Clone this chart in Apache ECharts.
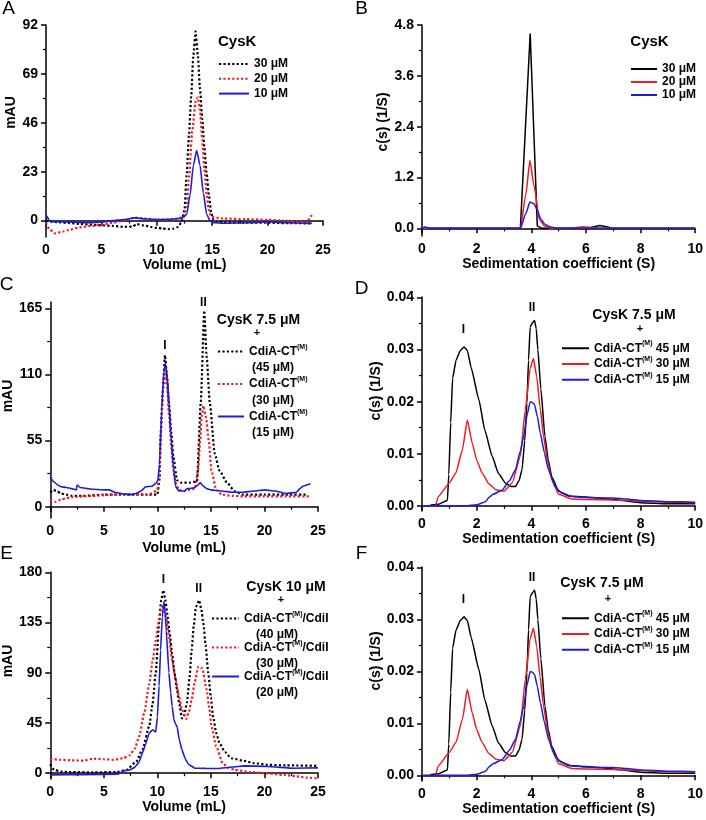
<!DOCTYPE html>
<html><head><meta charset="utf-8">
<script src="https://cdn.jsdelivr.net/npm/echarts@6/dist/echarts.min.js"></script>
<style>html,body{margin:0;padding:0;background:#fff}#c{width:706px;height:820px}</style>
</head><body><div id="c"></div><script>
// ---------------- DATA ----------------
// Panel A (SEC, CysK alone): [volume mL, mAU]
const A_30uM = [[0,0],[0.5,-0.5],[1,-0.7],[2,-1.1],[3,-1.5],[4,-1.9],[5,-2.2],[6,-2.5],[7,-2.9],[7.8,-2.8],[8.2,-1.6],[8.8,-2.2],[9.5,-3],[10,-3.4],[10.5,-3.7],[11,-4],[11.5,-3.8],[11.9,-3],[12.2,-1],[12.5,5],[12.7,22],[12.9,40],[13.1,58],[13.3,78],[13.5,89],[13.7,78],[13.9,62],[14.1,48],[14.3,34],[14.5,22],[14.7,12],[14.9,4],[15.1,0.5],[15.4,-0.6],[16,-0.9],[18,-1],[20,-1],[22,-1.2],[24,-1.3]];
const A_20uM = [[0,-1],[0.3,-4],[0.8,-6],[1.5,-5.2],[2,-4.5],[3,-3.2],[4,-2.5],[5,-2],[6,-1],[7,0],[8,1.4],[9,1],[10,0.5],[11,0.5],[12,1],[12.4,2],[12.7,6],[12.9,20],[13.2,42],[13.5,56],[13.7,58],[13.9,52],[14.1,38],[14.3,24],[14.5,12],[14.7,5],[14.9,2],[15.2,1.5],[16,1],[18,0.7],[20,0.4],[22,-0.2],[23.5,-0.6],[24,2.6]];
const A_10uM = [[0,0.3],[0.1,2],[0.3,0],[0.6,-0.5],[2,-0.6],[4,-1],[5,-0.7],[6,0],[7,0.5],[8,1.3],[9,0.8],[10,0.5],[11,0.6],[12,1],[12.4,1.5],[12.7,3],[13,12],[13.3,26],[13.6,33],[13.9,26],[14.2,13],[14.5,3],[14.8,0],[15.2,-1],[16,-1.2],[18,-1],[20,-0.6],[22,-1],[24,-1.3]];
// Panel B (AUC, CysK alone): [S, c(s)]
const B_30uM = [[0,0],[3.6,0],[3.96,4.6],[4.22,0.06],[4.4,0],[6.0,0],[6.3,0.04],[6.5,0.07],[6.75,0.04],[7.0,0],[10,0]];
const B_20uM = [[0,0],[3.6,0],[3.8,0.8],[3.95,1.6],[4.1,1.0],[4.3,0.2],[4.5,0.05],[4.7,0],[5.4,0],[5.9,0.04],[6.3,0.01],[6.6,0],[10,0]];
const B_10uM = [[0,0],[0.1,0.03],[0.2,0.02],[0.3,0],[3.6,0],[3.8,0.35],[3.95,0.62],[4.1,0.58],[4.2,0.45],[4.35,0.22],[4.5,0.1],[4.7,0.03],[5.0,0],[10,0]];
// Panel C (SEC, CysK 7.5 uM + CdiA-CT)
const C_45uM = [[0,12],[0.3,14],[0.6,13],[1,11],[1.5,10],[2,9],[3,9],[5,10],[7,10],[9,10],[10,10],[10.2,22],[10.3,58],[10.5,95],[10.71,126],[10.9,108],[11.08,86],[11.3,62],[11.5,41],[11.84,22],[12.2,20],[13,20],[13.7,21],[14.05,86],[14.38,163],[14.6,125],[14.9,86],[15.36,44],[15.8,30],[16.5,20],[17.2,13],[18,10],[20,10],[22,10],[24,10]];
const C_30uM = [[0,5.5],[0.5,4],[1,6],[1.5,7],[2,8],[3,8.5],[4,9],[5,9.5],[6,10],[7,10.5],[8,10.5],[9,10],[9.5,11],[10,14],[10.2,30],[10.4,75],[10.55,100],[10.7,112],[10.9,100],[11.1,75],[11.3,50],[11.5,30],[11.7,20],[12,14],[12.5,13],[13,14],[13.5,15],[13.8,30],[14.0,55],[14.15,76],[14.3,84],[14.55,74],[14.8,55],[15.05,30],[15.5,14],[16,10],[17,9],[18,8.5],[20,8.5],[22,8.5],[24.2,8.5]];
const C_15uM = [[0,24.4],[0.3,21],[0.7,18],[1,16.6],[1.5,16],[2,15],[2.45,14],[2.5,18],[2.8,16],[3.5,15],[4,14.5],[5,14],[5.5,14],[6,12],[7,10.5],[7.5,10],[8,11],[8.5,13],[8.9,16.6],[9.5,17],[9.85,19.4],[10.05,22],[10.2,35],[10.4,80],[10.6,112],[10.77,119],[10.95,106],[11.1,85],[11.3,55],[11.5,32],[11.7,17],[12,13],[12.5,13],[12.8,15],[13,15],[13.5,16],[13.8,18],[14,20],[14.3,17],[14.6,15],[15,14],[16,13],[17,12],[18,12],[19,13],[20,14],[21,13],[22,11],[23,12],[23.3,15],[23.6,17],[24.3,19]];
// Panel D (AUC, CysK 7.5 uM + CdiA-CT)
const D_45uM = [[0.3,0.0001],[0.6,0.0003],[0.93,0.001],[0.98,0.006],[1.05,0.016],[1.12,0.0245],[1.25,0.028],[1.4,0.0298],[1.54,0.0305],[1.66,0.0298],[1.8,0.0265],[2.08,0.0204],[2.3,0.0145],[2.57,0.0095],[2.8,0.0062],[3.05,0.0044],[3.25,0.0037],[3.42,0.0037],[3.55,0.0048],[3.66,0.0069],[3.76,0.0125],[3.84,0.0197],[3.9,0.028],[3.96,0.0344],[4.05,0.0352],[4.12,0.0356],[4.18,0.034],[4.24,0.03],[4.35,0.0225],[4.5,0.0133],[4.62,0.0088],[4.75,0.0056],[5.0,0.0028],[5.36,0.0019],[6,0.0017],[6.5,0.0015],[7,0.0012],[8,0.0006],[9,0.0004],[10,0.0004]];
const D_30uM = [[0.5,0],[0.6,0.0018],[1.0,0.0044],[1.24,0.0063],[1.48,0.0108],[1.66,0.0165],[1.84,0.012],[2.0,0.0088],[2.2,0.0063],[2.45,0.0042],[2.7,0.0031],[3.0,0.0028],[3.3,0.0044],[3.6,0.0095],[3.78,0.0184],[3.96,0.0264],[4.08,0.0283],[4.2,0.0248],[4.32,0.019],[4.45,0.0133],[4.6,0.0085],[4.75,0.005],[5.0,0.0022],[5.5,0.0013],[6,0.0012],[7,0.0011],[8,0.0009],[9,0.0007],[10,0.0006]];
const D_15uM = [[0,0],[1.6,0],[2.0,0.0002],[2.33,0.0008],[2.45,0.0016],[2.6,0.0022],[2.93,0.003],[3.2,0.0048],[3.42,0.0069],[3.6,0.0105],[3.72,0.0133],[3.85,0.0175],[3.96,0.02],[4.05,0.0198],[4.12,0.0194],[4.22,0.0172],[4.33,0.014],[4.48,0.0102],[4.63,0.0069],[4.87,0.0037],[5.1,0.0025],[5.5,0.0018],[6,0.0016],[6.5,0.0015],[7,0.0015],[7.5,0.0013],[8,0.001],[9,0.0008],[10,0.0007]];
// Panel E (SEC, CysK 10 uM + CdiA-CT/CdiI)
const E_40uM = [[0,8],[0.37,3],[1,1.5],[1.9,1],[4,0.8],[6.2,1],[7.1,3],[8.0,10],[8.6,21],[9.24,42],[9.55,62],[9.85,90],[10.16,134],[10.35,155],[10.56,164],[10.75,155],[10.92,143],[11.15,125],[11.38,107],[11.6,90],[11.84,75],[12.05,62],[12.3,49],[12.5,52],[12.76,63],[13.0,85],[13.2,110],[13.4,132],[13.6,149],[13.9,155],[14.1,147],[14.3,134],[14.5,115],[14.75,90],[15.0,68],[15.2,51],[15.5,36],[15.8,27],[16.3,19],[16.9,13.4],[18.1,11],[19,9],[20.3,7.5],[22,7],[25,6.6]];
const E_30uM = [[0,12.8],[1,12],[2,11.5],[3.1,11.3],[4.0,13],[5,12.5],[5.9,12],[6.8,13.4],[7.4,16],[7.9,22],[8.3,33],[8.8,55],[9.24,80],[9.55,100],[9.85,119],[10.1,135],[10.3,146],[10.56,150.7],[10.8,140],[11.08,122],[11.4,100],[11.7,84],[12.0,70],[12.3,57],[12.7,48.7],[12.95,55],[13.2,66],[13.5,82],[13.83,95.5],[14.2,94],[14.6,75],[14.85,58],[15.05,42],[15.5,24],[16.1,9],[16.6,5],[17.2,3],[18.7,1],[20,0],[21.8,-1.5],[23,-2.8],[24,-4],[25,-4.8]];
const E_20uM = [[0,-1.5],[3,-1.3],[6.33,-1],[6.8,2],[7.4,3],[7.86,5],[8.3,10],[8.6,18],[8.9,26],[9.24,36],[9.55,39],[9.85,37],[10.0,50],[10.16,78],[10.3,110],[10.46,140],[10.62,154],[10.72,145],[10.83,128],[11.08,90],[11.25,72],[11.38,60],[11.55,48],[11.7,44],[11.84,42],[12.05,30],[12.3,21],[12.6,13],[12.9,8],[13.5,4.5],[14.5,4.3],[15.7,4.2],[17,5.5],[18.1,6.6],[20.3,6],[22.7,4.5],[25,4.8]];
// Panel F (AUC, same as D)
const F_45uM = D_45uM.slice();
const F_30uM = D_30uM.slice();
const F_15uM = D_15uM.slice();

// Tick values
const volTicks = [0,5,10,15,20,25];
const volMinor = [2.5,7.5,12.5,17.5,22.5];
const sedTicks = [0,2,4,6,8,10];
const sedMinor = [1,3,5,7,9];
const A_yTicks = [0,23,46,69,92];
const A_yMinor = [11.5,34.5,57.5,80.5];
const B_yTicks = [0,1.2,2.4,3.6,4.8];
const B_yMinor = [0.6,1.8,3.0,4.2];
const C_yTicks = [0,55,110,165];
const C_yMinor = [27.5,82.5,137.5];
const D_yTicks = [0,0.01,0.02,0.03,0.04];
const D_yMinor = [0.005,0.015,0.025,0.035];
const E_yTicks = [0,45,90,135,180];
const E_yMinor = [22.5,67.5,112.5,157.5];

// Peak annotations [x, y, text]
const C_peaks = [[10.71,133.7,'I'],[14.3,169.4,'II']];
const D_peaks = [[1.52,0.0338,'I'],[4.03,0.038,'II']];
const E_peaks = [[10.56,173,'I'],[13.86,165,'II']];
const F_peaks = [[1.52,0.0338,'I'],[4.03,0.038,'II']];

// ---------------- CHART ----------------
const FONT = 'Liberation Sans, Arial, Helvetica, sans-serif';
const BLACK = '#000000', RED = '#ec1c24', BLUE = '#1c1cdc';
const DOT = [2.2, 2.2];

const grids = [
  {left:46,  top:25,  width:277, height:212},
  {left:422, top:25,  width:275, height:211},
  {left:46,  top:302, width:272, height:216},
  {left:422, top:297, width:275, height:214},
  {left:46,  top:572, width:272, height:207},
  {left:422, top:567, width:275, height:214}
];

const panels = [
  {x:[0,25], xt:volTicks, xm:volMinor, y:[-7.7,92], yt:A_yTicks, ym:A_yMinor, xn:'Volume (mL)', yn:'mAU', xgap:20, ygap:22, ypad:37, dec:0},
  {x:[0,10], xt:sedTicks, xm:sedMinor, y:[-0.18,4.8], yt:B_yTicks, ym:B_yMinor, xn:'Sedimentation coefficient (S)', yn:'c(s) (1/S)', xgap:21, ygap:27, ypad:17, dec:1},
  {x:[0,25], xt:volTicks, xm:volMinor, y:[-9.4,170.2], yt:C_yTicks, ym:C_yMinor, xn:'Volume (mL)', yn:'mAU', xgap:23, ygap:22, ypad:28, dec:0},
  {x:[0,10], xt:sedTicks, xm:sedMinor, y:[-0.001,0.0401], yt:D_yTicks, ym:D_yMinor, xn:'Sedimentation coefficient (S)', yn:'c(s) (1/S)', xgap:20, ygap:27, ypad:26, dec:2},
  {x:[0,25], xt:volTicks, xm:volMinor, y:[-5.2,180.3], yt:E_yTicks, ym:E_yMinor, xn:'Volume (mL)', yn:'mAU', xgap:19, ygap:25, ypad:29, dec:0},
  {x:[0,10], xt:sedTicks, xm:sedMinor, y:[-0.0011,0.0401], yt:D_yTicks, ym:D_yMinor, xn:'Sedimentation coefficient (S)', yn:'c(s) (1/S)', xgap:16, ygap:27, ypad:26, dec:2}
];

const axLine = {lineStyle:{color:'#000', width:1.5}};
const xAxes = [], yAxes = [];
panels.forEach((p, g) => {
  xAxes.push({type:'value', gridIndex:g, position:'bottom', min:p.x[0], max:p.x[1],
    axisLine:axLine, splitLine:{show:false},
    axisTick:{show:true, customValues:p.xt, length:5, lineStyle:{color:'#000', width:1.5}},
    axisLabel:{customValues:p.xt, color:'#000', fontFamily:FONT, fontWeight:'bold', fontSize:14, margin:6},
    name:p.xn, nameLocation:'middle', nameGap:p.xgap,
    nameTextStyle:{color:'#000', fontFamily:FONT, fontWeight:'bold', fontSize:14}});
  xAxes.push({type:'value', gridIndex:g, position:'bottom', min:p.x[0], max:p.x[1],
    axisLine:{show:false}, splitLine:{show:false}, axisLabel:{show:false},
    axisTick:{show:true, customValues:p.xm, length:3, lineStyle:{color:'#000', width:1.2}}});
  yAxes.push({type:'value', gridIndex:g, position:'left', min:p.y[0], max:p.y[1],
    axisLine:axLine, splitLine:{show:false},
    axisTick:{show:true, customValues:p.yt, length:5, lineStyle:{color:'#000', width:1.5}},
    axisLabel:{customValues:p.yt, color:'#000', fontFamily:FONT, fontWeight:'bold', fontSize:14, margin:8,
      formatter: v => Number(v).toFixed(p.dec)},
    name:p.yn, nameLocation:'middle', nameGap:p.ygap,
    nameTextStyle:{color:'#000', fontFamily:FONT, fontWeight:'bold', fontSize:14, padding:[0,0,0,p.ypad]}});
  yAxes.push({type:'value', gridIndex:g, position:'left', min:p.y[0], max:p.y[1],
    axisLine:{show:false}, splitLine:{show:false}, axisLabel:{show:false},
    axisTick:{show:true, customValues:p.ym, length:3, lineStyle:{color:'#000', width:1.2}}});
});

function line(name, g, data, color, dotted, width, smooth, peaks) {
  const s = {type:'line', name, xAxisIndex:g*2, yAxisIndex:g*2, data, symbol:'none',
    smooth: smooth, smoothMonotone:'x', z:3,
    lineStyle:{color, width, type: dotted ? DOT : 'solid'}, itemStyle:{color}};
  if (peaks) {
    s.markPoint = {symbol:'circle', symbolSize:0, silent:true,
      label:{show:true, position:'inside', color:'#000', fontFamily:FONT, fontWeight:'bold', fontSize:12,
        formatter: q => q.name},
      data: peaks.map(k => ({name:k[2], coord:[k[0], k[1]]}))};
  }
  return s;
}

const series = [
  line('A|30 μM', 0, A_30uM, BLACK, true, 2.2, 0.2),
  line('A|20 μM', 0, A_20uM, RED, true, 2.2, 0.2),
  line('A|10 μM', 0, A_10uM, BLUE, false, 1.6, 0.2),
  line('B|30 μM', 1, B_30uM, BLACK, false, 1.5, false),
  line('B|20 μM', 1, B_20uM, RED, false, 1.5, 0.2),
  line('B|10 μM', 1, B_10uM, BLUE, false, 1.5, 0.2),
  line('C|45 μM', 2, C_45uM, BLACK, true, 2.2, 0.2, C_peaks),
  line('C|30 μM', 2, C_30uM, RED, true, 2.2, 0.2),
  line('C|15 μM', 2, C_15uM, BLUE, false, 1.6, 0.1),
  line('D|45 μM', 3, D_45uM, BLACK, false, 1.5, 0.15, D_peaks),
  line('D|30 μM', 3, D_30uM, RED, false, 1.5, 0.15),
  line('D|15 μM', 3, D_15uM, BLUE, false, 1.5, 0.15),
  line('E|40 μM', 4, E_40uM, BLACK, true, 2.2, 0.2, E_peaks),
  line('E|30 μM', 4, E_30uM, RED, true, 2.2, 0.2),
  line('E|20 μM', 4, E_20uM, BLUE, false, 1.6, 0.1),
  line('F|45 μM', 5, F_45uM, BLACK, false, 1.5, 0.15, F_peaks),
  line('F|30 μM', 5, F_30uM, RED, false, 1.5, 0.15),
  line('F|15 μM', 5, F_15uM, BLUE, false, 1.5, 0.15)
];

const LH = 16.5;
const rich = {
  e:{fontSize:12, lineHeight:LH},
  a:{fontFamily:FONT, fontSize:12, fontWeight:'bold', color:'#000', lineHeight:LH},
  s:{fontFamily:FONT, fontSize:7, fontWeight:'bold', color:'#000', verticalAlign:'top', lineHeight:10},
  b:{fontFamily:FONT, fontSize:12, fontWeight:'bold', color:'#000', lineHeight:LH, padding:[0,0,0,3]},
  c:{fontFamily:FONT, fontSize:12, fontWeight:'bold', color:'#000', lineHeight:LH, padding:[0,0,0,12]}
};
function leg(prefix, names, cfg, fmt) {
  return Object.assign({orient:'vertical', padding:0, selectedMode:false,
    data: names.map(n => prefix + '|' + n),
    itemStyle:{color:'rgba(0,0,0,0)', borderColor:'rgba(0,0,0,0)', borderWidth:0, opacity:0},
    textStyle:{fontFamily:FONT, fontSize:12, fontWeight:'bold', color:'#000', rich},
    formatter: name => fmt(name.split('|')[1])}, cfg);
}
const plain = t => t;
const fmtC = t => '{e| }\n{a|CdiA-CT}{s|(M)}\n{b|(' + t + ')}';
const fmtD = t => '{a|CdiA-CT}{s|(M)}{a| ' + t + '}';
const fmtE = t => '{e| }\n{a|CdiA-CT}{s|(M)}{a|/CdiI}\n{c|(' + t + ')}';

const legend = [
  leg('A', ['30 μM','20 μM','10 μM'], {left:218, top:58, itemWidth:30, itemHeight:14, itemGap:2.8}, plain),
  leg('B', ['30 μM','20 μM','10 μM'], {left:630, top:63, itemWidth:26, itemHeight:14, itemGap:1}, plain),
  leg('C', ['45 μM','30 μM','15 μM'], {left:217, top:329, itemWidth:26, itemHeight:14, itemGap:-12.5}, fmtC),
  leg('D', ['45 μM','30 μM','15 μM'], {left:561, top:340, itemWidth:27, itemHeight:14, itemGap:1.5}, fmtD),
  leg('E', ['40 μM','30 μM','20 μM'], {left:211, top:596, itemWidth:27, itemHeight:14, itemGap:-16}, fmtE),
  leg('F', ['45 μM','30 μM','15 μM'], {left:561, top:610, itemWidth:27, itemHeight:14, itemGap:1.5}, fmtD)
];

function txt(x, y, text, size, weight, align) {
  return {type:'text', x, y, silent:true,
    style:{text, fontFamily:FONT, fontSize:size, fontWeight:weight, fill:'#000',
      align: align || 'center', verticalAlign:'middle'}};
}
const graphic = [
  txt(8.5, 9, 'A', 19, 'normal'), txt(361.5, 9, 'B', 19, 'normal'),
  txt(6.5, 285, 'C', 19, 'normal'), txt(361.5, 288.5, 'D', 19, 'normal'),
  txt(6.5, 553.5, 'E', 19, 'normal'), txt(361.5, 554, 'F', 19, 'normal'),
  txt(218, 42, 'CysK', 15, 'bold', 'left'),
  txt(649.5, 42, 'CysK', 15, 'bold'),
  txt(258.5, 320, 'CysK 7.5 μM', 14, 'bold'), txt(257, 333, '+', 11, 'bold'),
  txt(634, 315, 'CysK 7.5 μM', 14, 'bold'), txt(640, 329, '+', 11, 'bold'),
  txt(286, 587, 'CysK 10 μM', 14, 'bold'), txt(281, 600, '+', 11, 'bold'),
  txt(602, 583, 'CysK 7.5 μM', 14, 'bold'), txt(608, 599, '+', 11, 'bold')
];

const chart = echarts.init(document.getElementById('c'), null, {renderer:'canvas'});
chart.setOption({
  backgroundColor:'#ffffff',
  animation:false,
  grid: grids,
  xAxis: xAxes,
  yAxis: yAxes,
  legend,
  series,
  graphic
});
</script></body></html>
